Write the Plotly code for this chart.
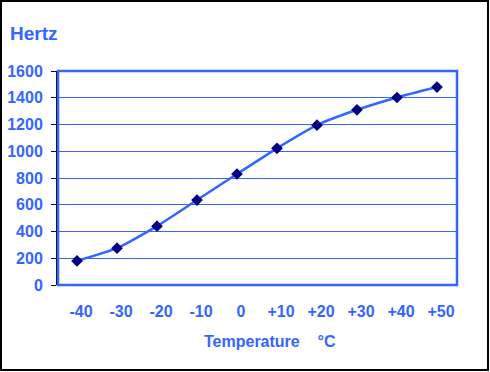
import plotly.graph_objects as go

categories = ["-40", "-30", "-20", "-10", "0", "+10", "+20", "+30", "+40", "+50"]
hertz = [180, 275, 440, 635, 830, 1022, 1195, 1310, 1402, 1480]
y_ticks = [0, 200, 400, 600, 800, 1000, 1200, 1400, 1600]

BLUE = "#3366FF"
NAVY = "#000080"
FONT = "Liberation Sans, Arial, sans-serif"

W, H = 490, 372
L, R, T, B = 57, 457, 71, 285  # plot area in pixels

def px(x):
    return (x - L) / (R - L)

def py(y):
    return (B - y) / (B - T)

fig = go.Figure()
fig.add_trace(go.Scatter(
    x=categories, y=hertz, mode="lines+markers",
    line=dict(color=BLUE, width=2.5, shape="spline", smoothing=0.5),
    marker=dict(symbol="diamond", size=9, color=NAVY),
    showlegend=False, hoverinfo="x+y",
))

fig.update_layout(
    width=W, height=H,
    margin=dict(l=L, r=W - R, t=T, b=H - B, pad=0, autoexpand=False),
    paper_bgcolor="white", plot_bgcolor="white",
    font=dict(family=FONT, color=BLUE, size=15, weight="bold"),
    xaxis=dict(
        type="category", range=[-0.5, 9.5], showgrid=False, zeroline=False,
        showline=False, ticks="", ticklabelstandoff=15, ticklabelshift=4,
        automargin=False,
        tickfont=dict(family=FONT, size=16, color=BLUE, weight="bold"),
        fixedrange=True,
    ),
    yaxis=dict(
        range=[0, 1600], tickvals=y_ticks, showgrid=True, gridcolor=BLUE, gridwidth=1,
        zeroline=False, showline=True, linecolor="black", linewidth=1,
        ticks="outside", ticklen=5, tickcolor="black", tickwidth=1,
        ticklabelstandoff=5, automargin=False,
        tickfont=dict(family=FONT, size=16, color=BLUE, weight="bold"),
        fixedrange=True,
    ),
    shapes=[
        dict(type="rect", xref="paper", yref="paper", x0=0.0025, x1=1, y0=0, y1=1,
             line=dict(color=BLUE, width=2.5), layer="above"),
        dict(type="rect", xref="paper", yref="paper",
             x0=px(1), x1=px(W - 2), y0=py(H - 2), y1=py(1),
             line=dict(color="black", width=2)),
    ],
    annotations=[
        dict(text="Hertz", xref="paper", yref="paper", x=px(8), y=py(34),
             xanchor="left", yanchor="middle", showarrow=False,
             font=dict(family=FONT, size=19, color=BLUE, weight="bold")),
        dict(text="Temperature\u00a0\u00a0\u00a0\u00a0°C", xref="paper", yref="paper",
             x=px(270), y=py(341), xanchor="center", yanchor="middle", showarrow=False,
             font=dict(family=FONT, size=16, color=BLUE, weight="bold")),
    ],
)

fig.write_html(
    "out.html",
    config={"displayModeBar": False},
    post_script="document.body.style.margin='0';document.body.style.overflow='hidden';",
)
